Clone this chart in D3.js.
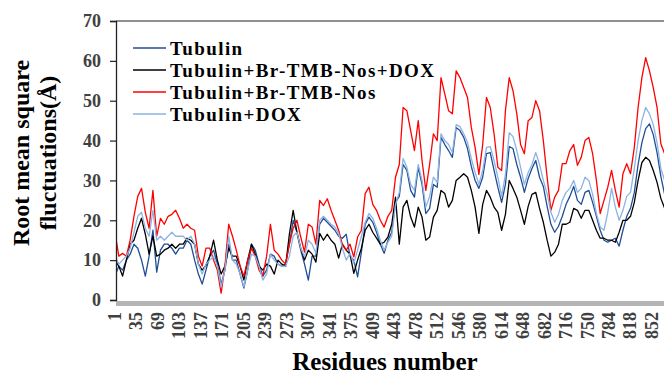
<!DOCTYPE html>
<html>
<head>
<meta charset="utf-8">
<script src="https://cdnjs.cloudflare.com/ajax/libs/d3/7.8.5/d3.min.js"></script>
<style>
  html, body { margin: 0; padding: 0; background: #fff; }
  svg { display: block; }
  text { font-family: "Liberation Serif", "Times New Roman", serif; font-weight: bold; }
</style>
</head>
<body>
<svg id="chart" width="664" height="374"></svg>
<script>
// RMSF per residue, sampled every 6th residue position (index along the sequence)
const sampleStep = 6;

const tubulin = [
  6, 8.5, 7.5, 10, 11.5, 14, 13, 10, 6, 11, 17.5, 7, 12.5, 14, 14, 13, 11.5, 13, 13, 15,
  14, 10, 6.5, 4, 7.5, 11, 12.5, 9, 4, 7.5, 14, 10, 10, 6.5, 3, 7.5, 14, 12.5, 9, 6,
  7.5, 11.5, 11, 9, 8.5, 9, 14, 20, 17, 12.5, 9, 5, 11, 11, 19, 20.5, 19.5, 18.5, 17.5, 16,
  15.5, 16.5, 11, 10, 5.8, 12, 19, 20.8, 19.5, 17, 14, 11.7, 15, 17, 24.5, 26, 34, 32.5, 27.5, 25.8,
  33.3, 29, 21.7, 23, 29, 28.3, 40.8, 39, 37.5, 35.8, 43.3, 42.5, 40.8, 38, 33.5, 30, 28, 30.8, 36.7, 37,
  32.5, 28.3, 24.5, 29, 38.5, 38, 34, 30.8, 27, 30.5, 33, 35, 30.8, 28.5, 23.5, 19, 17, 18.5, 21, 24,
  26, 28.5, 25, 24, 27, 27.5, 24.5, 21, 17.5, 15, 14.5, 15, 15.5, 13.5, 17.5, 21, 23, 27, 34, 39.5,
  43, 44.2, 41.5, 37, 31, 26.5
];

const tubulinBrDox = [
  10, 8.5, 6, 10, 14, 15, 18, 20.5, 16.5, 11.5, 16, 11, 11.5, 12.5, 13, 14, 13, 14, 14, 15.5,
  15, 14, 9, 7.5, 8.7, 11, 15, 10, 6.5, 8.5, 13, 11, 11, 8.5, 5, 10, 14, 11.5, 8.5, 7.5,
  9, 8.5, 6.5, 10, 9, 8.5, 16.5, 22.5, 17, 13, 10, 12.5, 11.5, 9.5, 16.7, 15, 16.5, 15, 14, 10.5,
  14, 12.5, 11.5, 6.7, 10, 13, 17.5, 19, 17, 15.5, 14, 14.5, 15.8, 19, 25.8, 14, 23.3, 25, 20.8, 18.3,
  23.3, 20.8, 15, 15.8, 20.8, 22.5, 27.5, 26.7, 23.3, 25, 30, 30.8, 31.7, 30.8, 27.5, 23.3, 16.7, 24, 27.5, 25.8,
  23.3, 22, 17.5, 21.5, 30, 28, 25.8, 22.5, 19, 23.5, 26.5, 27, 23, 19.5, 15, 11, 12, 14, 19, 19,
  19.5, 23, 22.5, 20.5, 22.5, 22.5, 20, 17.5, 15.5, 15.5, 15, 15, 14.5, 17, 20, 20, 21, 24.5, 30, 34.5,
  35.8, 35, 32.5, 29.5, 25.5, 23
];

const tubulinBr = [
  17, 11, 11.7, 11, 15, 21, 26, 28, 22, 18, 27.5, 16, 20.5, 19, 21, 21.5, 22.5, 20.5, 18, 19,
  18, 17.5, 11, 8.5, 13, 13, 10, 7.5, 1.7, 8.5, 19, 16, 12.5, 8.5, 6, 10, 13, 11, 7.5, 6,
  11, 19, 12.5, 11.5, 10, 9, 14, 18, 20, 15.8, 12, 19, 18.3, 14, 25, 23.7, 25.4, 22.5, 20, 17.5,
  13.8, 12.5, 14, 10.8, 15.8, 17.5, 26.7, 28.3, 24, 22.5, 20, 18.3, 21, 22.5, 30.8, 34, 48.3, 47.5, 42.5, 37.5,
  45, 35, 27.5, 34, 41.7, 40, 55.8, 51.7, 47.5, 46.7, 57.5, 55.8, 53.3, 50.8, 43.3, 38.3, 31.5, 39, 50.8, 48.3,
  41.7, 33.3, 32.5, 47.5, 55.8, 52.5, 46.7, 39, 36.7, 45, 45.8, 50, 47.5, 40, 30.8, 22.5, 25.8, 27.5, 34.2, 34.2,
  37.5, 39, 33.8, 35.8, 40, 40.8, 36.7, 30, 21.7, 25, 28.3, 32.5, 27.5, 23.3, 31.7, 34.2, 31.7, 38.3, 48.3, 55.8,
  60.8, 57.5, 53.3, 48.3, 39.2, 36.7
];

const tubulinDox = [
  11, 9, 10, 11, 13, 17, 21, 22, 18, 16, 22.5, 15, 16, 15, 16, 17, 16, 16, 16, 15,
  16, 14, 9, 6.5, 9, 10, 11, 8.5, 3.3, 7.5, 16, 10, 9, 6.5, 3.3, 7.5, 11.5, 11, 8.5, 5,
  6.5, 11.5, 10, 9, 8.5, 8.5, 11, 16, 17, 13, 10.8, 15, 14, 11.7, 20, 21, 20, 19, 18.3, 16.7,
  13, 10, 11.7, 9.2, 12.5, 16, 19.5, 21.7, 20.5, 18, 15, 12.5, 14.5, 16, 24, 27, 35.5, 33.3, 29, 27.5,
  34, 30, 23.3, 26, 30.8, 29.5, 41.7, 40, 39, 37, 44, 43.5, 41.7, 39.5, 35.5, 32, 29, 32.5, 38.3, 38.5,
  35, 30.8, 26, 31.5, 42, 41, 37.5, 33.3, 29, 32, 34, 37, 34, 30, 26.7, 22, 19.5, 21.5, 25, 27,
  28, 30, 27, 28, 30.8, 30, 26.5, 21.7, 18.3, 17.5, 22, 28, 23.3, 20, 22.5, 26, 27, 33, 40, 45,
  48.3, 46.7, 44, 39.5, 33, 30
];

const seriesNames = ["Tubulin", "Tubulin+Br-TMB-Nos+DOX", "Tubulin+Br-TMB-Nos", "Tubulin+DOX"];
const seriesColors = ["#1F4E96", "#000000", "#FF0000", "#8DB3E2"];
const seriesValues = [tubulin, tubulinBrDox, tubulinBr, tubulinDox];

// residue labels shown every 34 positions along the category axis
const tickLabels = ["1", "35", "69", "103", "137", "171", "205", "239", "273", "307", "341", "375", "409",
  "443", "478", "512", "546", "580", "614", "648", "682", "716", "750", "784", "818", "852"];
const labelEvery = 34;
const yTicks = [0, 10, 20, 30, 40, 50, 60, 70];

const svg = d3.select("#chart");
const W = 664;
const axisX = 116, floorY = 300;

const x = d3.scaleLinear().domain([0, labelEvery * (tickLabels.length - 1)]).range([115, 652]);
const y = d3.scaleLinear().domain([0, 70]).range([300, 21]);

// frame: top border and grey floor
svg.append("line").attr("x1", axisX).attr("x2", W).attr("y1", y(70)).attr("y2", y(70))
  .attr("stroke", "#222").attr("stroke-width", 1.2);
svg.append("rect").attr("x", axisX).attr("y", floorY + 1).attr("width", W - axisX).attr("height", 5)
  .attr("fill", "#b4b4b4");

// plot clip
svg.append("clipPath").attr("id", "plotClip").append("rect")
  .attr("x", axisX).attr("y", 0).attr("width", W - axisX).attr("height", floorY + 2);

const line = d3.line()
  .x((d, i) => x(i * sampleStep))
  .y(d => y(d));

const g = svg.append("g").attr("clip-path", "url(#plotClip)");
seriesValues.forEach((vals, si) => {
  g.append("path")
    .datum(vals)
    .attr("fill", "none")
    .attr("stroke", seriesColors[si])
    .attr("stroke-width", 1.3)
    .attr("stroke-linejoin", "round")
    .attr("d", line);
});

// y axis
const yAxis = d3.axisLeft(y).tickValues(yTicks).tickSize(6).tickPadding(9).tickFormat(d3.format("d"));
const ya = svg.append("g").attr("transform", `translate(${axisX},0)`).call(yAxis);
ya.select(".domain").attr("stroke", "#222").attr("stroke-width", 1.3);
ya.selectAll(".tick line").attr("stroke", "#222").attr("stroke-width", 1.2);
ya.selectAll(".tick text").attr("fill", "#404040").style("font-size", "18px")
  .style("font-family", "'Liberation Serif', 'Times New Roman', serif").style("font-weight", "bold");

// x category labels (rotated)
svg.append("g").selectAll("text")
  .data(tickLabels)
  .join("text")
  .attr("transform", (d, i) => `translate(${x(i * labelEvery)},312) rotate(-90)`)
  .attr("text-anchor", "end")
  .attr("dy", "0.33em")
  .attr("fill", "#404040")
  .style("font-size", "18px")
  .text(d => d);

// axis titles
svg.append("text")
  .attr("x", 385).attr("y", 370)
  .attr("text-anchor", "middle")
  .style("font-size", "25px")
  .attr("fill", "#000")
  .text("Residues number");

const yt = svg.append("text")
  .attr("transform", "translate(29,153) rotate(-90)")
  .attr("text-anchor", "middle")
  .style("font-size", "24px")
  .attr("fill", "#000");
yt.append("tspan").attr("x", 0).attr("dy", 0).text("Root mean square");
yt.append("tspan").attr("x", 0).attr("dy", 27).text("fluctuations(Å)");

// legend
const legend = svg.append("g");
seriesNames.forEach((name, i) => {
  const ly = 48 + i * 22;
  legend.append("line").attr("x1", 133).attr("x2", 166).attr("y1", ly).attr("y2", ly)
    .attr("stroke", seriesColors[i]).attr("stroke-width", 1.3);
  legend.append("text").attr("x", 170).attr("y", ly + 7)
    .style("font-size", "19px").style("letter-spacing", "1.4px")
    .attr("fill", "#000").text(name);
});
</script>
</body>
</html>
